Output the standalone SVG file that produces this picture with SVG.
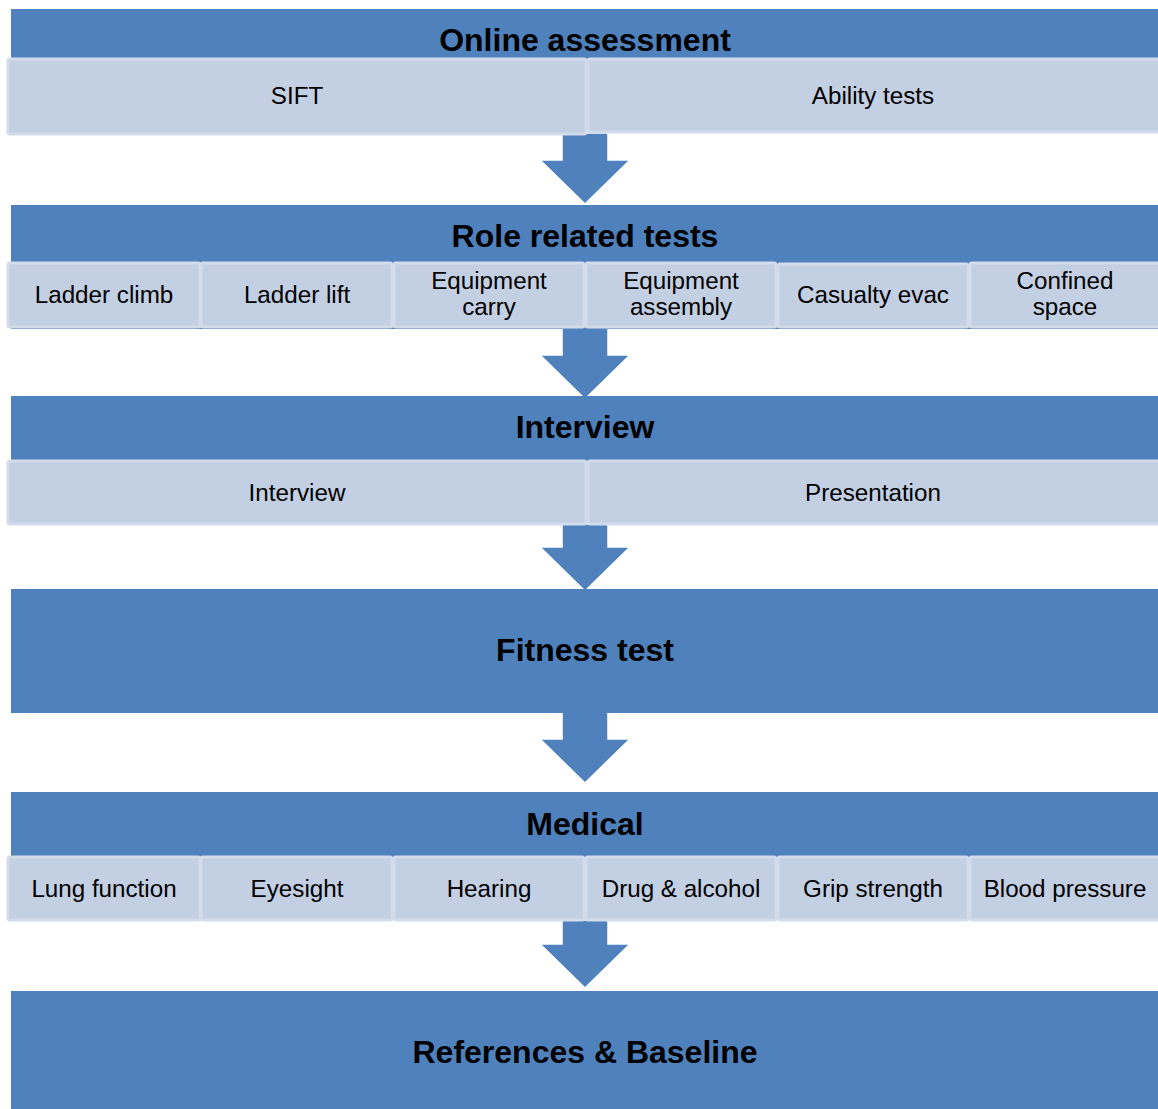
<svg xmlns="http://www.w3.org/2000/svg" width="1158" height="1109" viewBox="0 0 1158 1109">
<style>
.hdr{fill:#4F81BD}
.sub{fill:#C3CFE3;stroke:#D3DCEB;stroke-width:3}
.arr{fill:#4F81BD;stroke:#FFFFFF;stroke-width:1.5}
.t{font-family:"Liberation Sans",Arial,sans-serif;font-weight:bold;font-size:32px;fill:#000;text-anchor:middle}
.s{font-family:"Liberation Sans",Arial,sans-serif;font-size:24.2px;fill:#000;text-anchor:middle}
</style>
<rect width="1158" height="1109" fill="#FFFFFF"/>
<g id="connectors">
<path class="arr" d="M564,133 H606 Q608,133 608,135 V160 H630 L585,204 L540,160 H562 V135 Q562,133 564,133 Z"/>
<path class="arr" d="M564,327 H606 Q608,327 608,329 V355 H630 L585,399 L540,355 H562 V329 Q562,327 564,327 Z"/>
<path class="arr" d="M564,524 H606 Q608,524 608,526 V547 H630 L585,591 L540,547 H562 V526 Q562,524 564,524 Z"/>
<path class="arr" d="M564,712 H606 Q608,712 608,714 V739 H630 L585,783 L540,739 H562 V714 Q562,712 564,712 Z"/>
<path class="arr" d="M564,920 H606 Q608,920 608,922 V944 H630 L585,988 L540,944 H562 V922 Q562,920 564,920 Z"/>
</g>
<g id="online">
<rect class="hdr" x="11" y="9" width="1147" height="51"/>
<text class="t" x="585" y="51">Online assessment</text>
<g id="sift"><rect class="sub" x="8" y="59" width="578" height="75" rx="2"/><text class="s" x="297" y="104">SIFT</text></g>
<g id="ability"><rect class="sub" x="588" y="59" width="574" height="73" rx="2"/><text class="s" x="873" y="104">Ability tests</text></g>
</g>
<g id="role">
<rect class="hdr" x="11" y="205" width="1147" height="124"/>
<text class="t" x="585" y="247">Role related tests</text>
<g id="ladder-climb"><rect class="sub" x="8" y="263" width="192" height="64" rx="2"/><text class="s" x="104" y="303">Ladder climb</text></g>
<g id="ladder-lift"><rect class="sub" x="201" y="263" width="191" height="64" rx="2"/><text class="s" x="297" y="303">Ladder lift</text></g>
<g id="equip-carry"><rect class="sub" x="394" y="263" width="190" height="64" rx="2"/><text class="s" x="489" y="289">Equipment</text><text class="s" x="489" y="315">carry</text></g>
<g id="equip-assembly"><rect class="sub" x="586" y="263" width="190" height="64" rx="2"/><text class="s" x="681" y="289">Equipment</text><text class="s" x="681" y="315">assembly</text></g>
<g id="casualty"><rect class="sub" x="778" y="264" width="190" height="63" rx="2"/><text class="s" x="873" y="303">Casualty evac</text></g>
<g id="confined"><rect class="sub" x="970" y="263" width="192" height="64" rx="2"/><text class="s" x="1065" y="289">Confined</text><text class="s" x="1065" y="315">space</text></g>
</g>
<g id="interview">
<rect class="hdr" x="11" y="396" width="1147" height="66"/>
<text class="t" x="585" y="438">Interview</text>
<g id="interview-sub"><rect class="sub" x="8" y="461" width="578" height="63" rx="2"/><text class="s" x="297" y="501">Interview</text></g>
<g id="presentation"><rect class="sub" x="588" y="461" width="574" height="63" rx="2"/><text class="s" x="873" y="501">Presentation</text></g>
</g>
<g id="fitness">
<rect class="hdr" x="11" y="589" width="1147" height="124"/>
<text class="t" x="585" y="661">Fitness test</text>
</g>
<g id="medical">
<rect class="hdr" x="11" y="792" width="1147" height="66"/>
<text class="t" x="585" y="835">Medical</text>
<g id="lung"><rect class="sub" x="8" y="857" width="192" height="63" rx="2"/><text class="s" x="104" y="897">Lung function</text></g>
<g id="eyesight"><rect class="sub" x="201" y="857" width="191" height="63" rx="2"/><text class="s" x="297" y="897">Eyesight</text></g>
<g id="hearing"><rect class="sub" x="394" y="857" width="190" height="63" rx="2"/><text class="s" x="489" y="897">Hearing</text></g>
<g id="drug"><rect class="sub" x="586" y="857" width="190" height="63" rx="2"/><text class="s" x="681" y="897">Drug &amp; alcohol</text></g>
<g id="grip"><rect class="sub" x="778" y="857" width="190" height="63" rx="2"/><text class="s" x="873" y="897">Grip strength</text></g>
<g id="bp"><rect class="sub" x="970" y="857" width="192" height="63" rx="2"/><text class="s" x="1065" y="897">Blood pressure</text></g>
</g>
<g id="references">
<rect class="hdr" x="11" y="991" width="1147" height="118"/>
<text class="t" x="585" y="1063">References &amp; Baseline</text>
</g>
</svg>
